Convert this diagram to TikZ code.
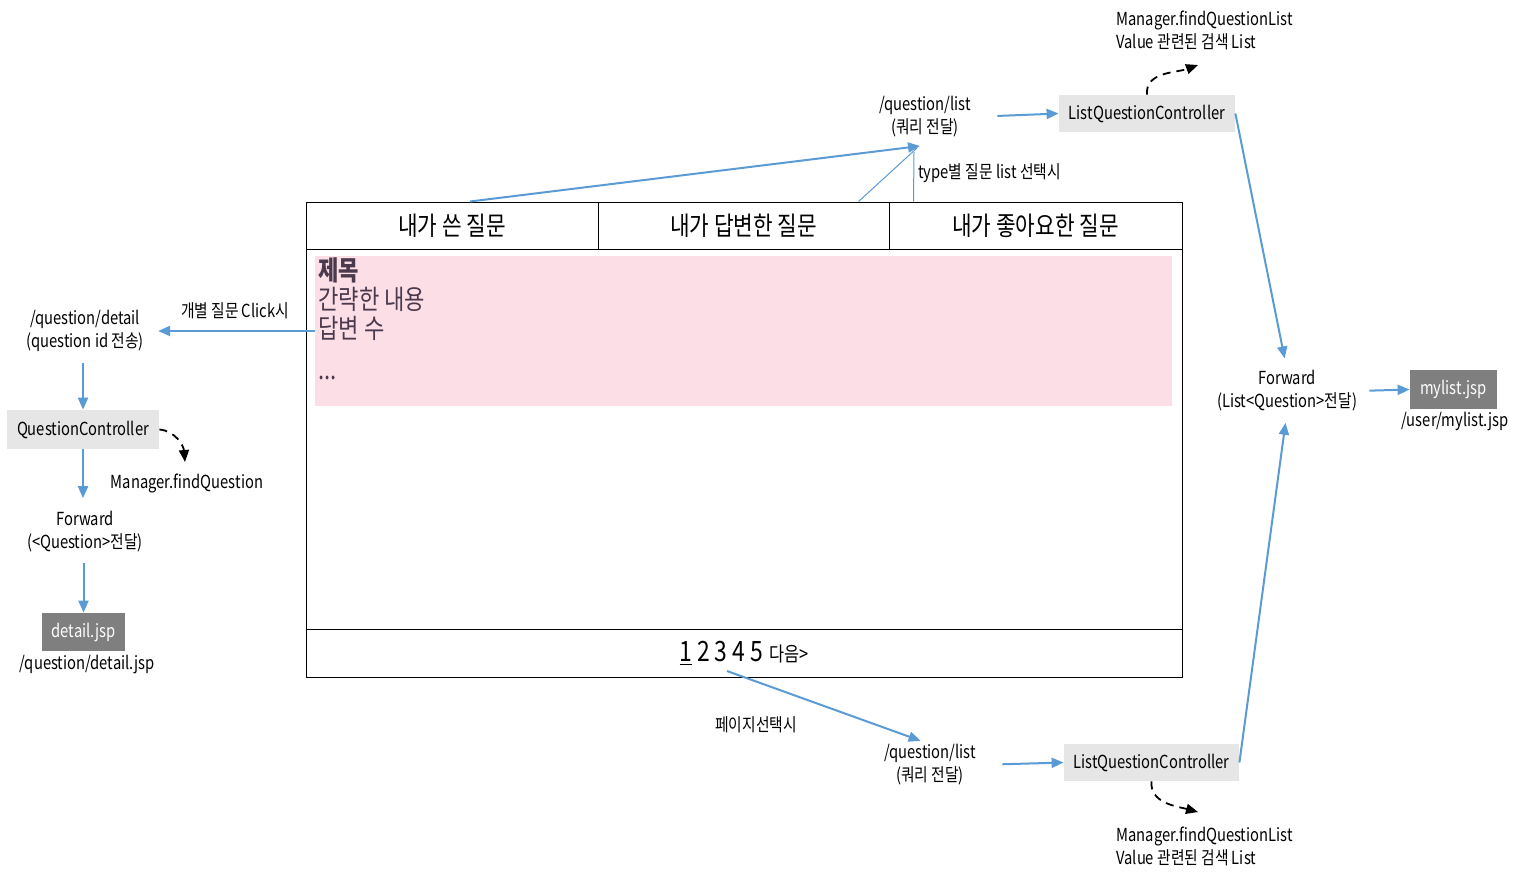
\documentclass[tikz,border=0pt]{standalone}
\usepackage{fontspec}
\setmainfont{Noto Sans CJK KR}[FakeStretch=0.82]
\usetikzlibrary{arrows.meta}
\definecolor{blu}{HTML}{5B9BD5}
\definecolor{pinkbg}{HTML}{FCDFE6}
\definecolor{lgray}{HTML}{E6E6E6}
\definecolor{dgray}{HTML}{7F7F7F}
\definecolor{pinktxt}{HTML}{4B3A4D}
\tikzset{
  flow/.style={draw=blu, line width=1pt, -{Triangle[length=6pt,width=5pt]}},
  thinflow/.style={draw=blu, line width=0.5pt},
  dashy/.style={draw=black, dashed, dash pattern=on 4pt off 3pt, line width=0.9pt, -{Triangle[length=6pt,width=5pt]}},
  lbl/.style={align=center, inner sep=0pt, font=\fontsize{9}{11.5}\selectfont},
  lbll/.style={align=left, inner sep=0pt, font=\fontsize{9}{11.5}\selectfont},
  ctrl/.style={fill=lgray, inner sep=0pt, font=\fontsize{9}{11.5}\selectfont},
  jsp/.style={fill=dgray, text=white, inner sep=0pt, font=\fontsize{9}{11.5}\selectfont},
  cell/.style={draw=black, line width=0.5pt, inner sep=0pt, font=\fontsize{13}{15}\selectfont},
  ptxt/.style={anchor=west, inner sep=0pt, text=pinktxt, font=\fontsize{13.5}{15}\selectfont},
}
\begin{document}
\begin{tikzpicture}[x=0.5pt,y=-0.5pt]
\useasboundingbox (0,0) rectangle (1537,875);

% main frame
\node[cell, minimum width=146pt, minimum height=23.5pt] (tab1) at (452,225.5) {내가 쓴 질문};
\node[cell, minimum width=145.5pt, minimum height=23.5pt] (tab2) at (743.5,225.5) {내가 답변한 질문};
\node[cell, minimum width=146.5pt, minimum height=23.5pt] (tab3) at (1035.5,225.5) {내가 좋아요한 질문};
\node[cell, minimum width=438pt, minimum height=190pt] (body) at (744,439) {};
\node[cell, minimum width=438pt, minimum height=24pt] (footer) at (744,653)
  {\fontsize{14}{16}\selectfont\underline{1}\hspace{2.5pt}2\hspace{2.5pt}3\hspace{2.5pt}4\hspace{2.5pt}5\hspace{3pt}{\fontsize{10}{12}\selectfont 다음>}};

% pink item
\node[fill=pinkbg, inner sep=0pt, minimum width=428.5pt, minimum height=75pt] (pinkbox) at (743.5,331) {};
\node[ptxt, font=\fontsize{13.5}{15}\selectfont\bfseries] (t1) at (318,270) {제목};
\node[ptxt] (t2) at (318,299) {간략한 내용};
\node[ptxt] (t3) at (318,328) {답변 수};
\node[ptxt] (t4) at (318,378) {...};

% top flow
\coordinate (qtip) at (920,146);
\node[lbl] (qlab) at (925,117) {/question/list\\(쿼리 전달)};
\node[ctrl, minimum width=88pt, minimum height=18.5pt] (lqc) at (1147,113.5) {ListQuestionController};
\node[lbll, anchor=west] (mgr1) at (1116,30.5) {Manager.findQuestionList\\Value 관련된 검색 List};
\coordinate (d1tip) at (1198,65);
\node[lbll, anchor=west] (typelab) at (918,173) {type별 질문 list 선택시};

\draw[flow] ([xshift=9pt]tab1.north) -- (qtip);
\draw[thinflow] ([xshift=-15.5pt]tab2.north east) -- (917,148);
\draw[thinflow] ([xshift=12.5pt]tab3.north west) -- (914,152);
\draw[flow, shorten <=13pt] (qlab.east) -- (lqc.west);
\draw[dashy] (lqc.north) to[out=95,in=200] (d1tip);

% right
\node[lbl] (fwd) at (1287,391) {Forward\\(List<Question>전달)};
\node[jsp, minimum width=43.5pt, minimum height=19.5pt] (myl) at (1453.5,389.5) {mylist.jsp};
\node[lbl] (mylp) at (1455,422) {/user/mylist.jsp};
\draw[flow, shorten >=6pt] (lqc.east) -- (fwd.north);
\draw[flow, shorten <=6pt] (fwd.east) -- (myl.west);

% bottom flow
\node[lbl] (qlab2) at (930,765) {/question/list\\(쿼리 전달)};
\node[lbl] (pagelab) at (756,725) {페이지선택시};
\node[ctrl, minimum width=87.5pt, minimum height=18.5pt] (lqc2) at (1151.5,762.5) {ListQuestionController};
\node[lbll, anchor=west] (mgr2) at (1116,846) {Manager.findQuestionList\\Value 관련된 검색 List};
\coordinate (d2tip) at (1198,812);
\draw[flow, shorten >=5pt] ([xshift=-8.5pt,yshift=-9pt]footer.center) -- (qlab2.north);
\draw[flow, shorten <=13pt] (qlab2.east) -- (lqc2.west);
\draw[flow, shorten >=5.5pt] (lqc2.east) -- (fwd.south);
\draw[dashy] (lqc2.south) to[out=-95,in=165] (d2tip);

% left flow
\node[lbl] (clicklab) at (235,311) {개별 질문 Click시};
\node[lbl] (dlab) at (85,331) {/question/detail\\(question id 전송)};
\node[ctrl, minimum width=76pt, minimum height=19.5pt] (qc) at (83,429.5) {QuestionController};
\node[lbl] (mfq) at (187,483) {Manager.findQuestion};
\coordinate (d3tip) at (185,462);
\node[lbl] (flab) at (85,532) {Forward\\(<Question>전달)};
\node[jsp, minimum width=41.5pt, minimum height=19pt] (det) at (83.5,632) {detail.jsp};
\node[lbl] (detp) at (87,664) {/question/detail.jsp};
\draw[flow] (pinkbox.west) -- ([xshift=7pt]dlab.east);
\draw[flow, shorten <=5.5pt] (dlab.south -| qc.north) -- (qc.north);
\draw[flow, shorten >=6.5pt] (qc.south) -- (flab.north -| qc.south);
\draw[flow, shorten <=5pt] (flab.south -| det.north) -- (det.north);
\draw[dashy] (qc.east) to[out=-5,in=95] (d3tip);
\end{tikzpicture}
\end{document}
